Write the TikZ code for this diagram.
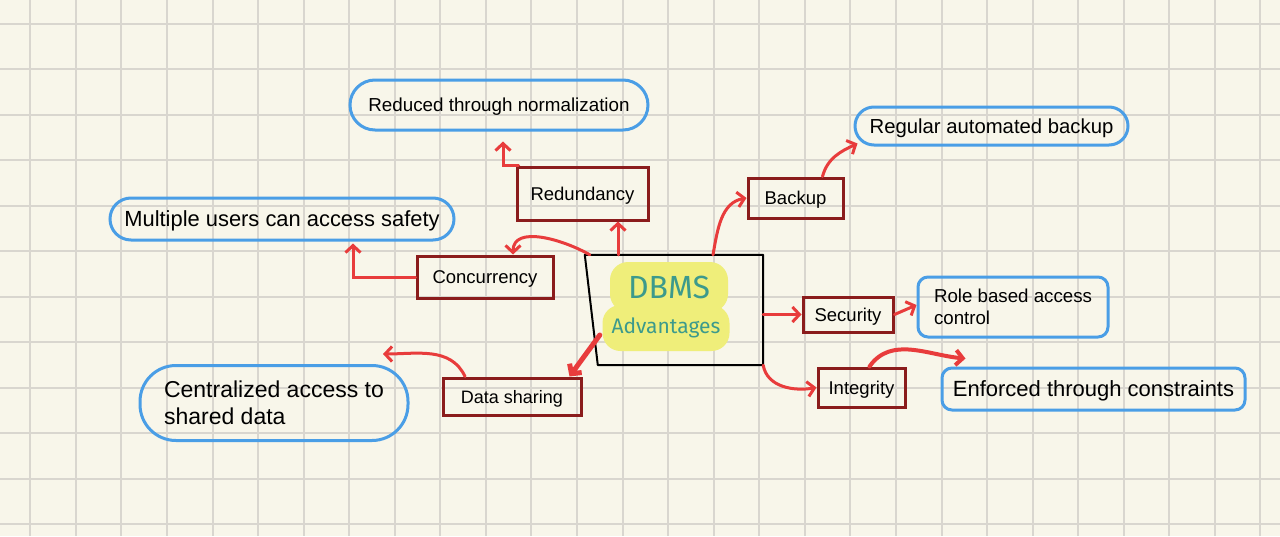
\documentclass[tikz,border=0pt]{standalone}
\usepackage{fontspec}
\setmainfont{Liberation Sans}
\newfontfamily\handfont{Fira Sans}
\usepackage{tikz}
\usetikzlibrary{arrows, arrows.meta}
\definecolor{paper}{HTML}{F8F6EA}
\definecolor{gridgray}{HTML}{D9D6CF}
\definecolor{boxred}{HTML}{8B1C1C}
\definecolor{arrowred}{HTML}{E83C3C}
\definecolor{noteblue}{HTML}{4A9EE6}
\definecolor{hiyellow}{HTML}{EFEE7A}
\definecolor{inkteal}{HTML}{3C9A8C}
\tikzset{gridline/.style = {draw = gridgray, line width = 2pt}}
\tikzset{topic/.style = {draw = boxred, line width = 3pt, inner sep = 0pt, text depth = 0pt, font = \fontsize{18.5}{22}\selectfont}}
\tikzset{note/.style = {draw = noteblue, line width = 3pt, inner sep = 0pt, align = center}}
\tikzset{hilite/.style = {fill = hiyellow, rounded corners = 18pt, inner sep = 0pt, text = inkteal}}
\tikzset{link/.style = {draw = arrowred, line width = 3pt, line cap = round, -{Straight Barb[length = 7pt, width = 15pt]}}}

\begin{document}
\begin{tikzpicture}[x = 1pt, y = 1pt]
				\fill[paper] (0, 0) rectangle (1280, -536);
				\useasboundingbox (0, 0) rectangle (1280, -536);
				\foreach \i in {0, ..., 27}
					\draw[gridline] ({30.3 + 45.56*\i}, 0) -- ++(0, -536);
				\foreach \j in {0, ..., 11}
					\draw[gridline] (0, {-24 - 45.45*\j}) -- ++(1280, 0);

				% centre box
				\node[minimum width = 178, minimum height = 110, inner sep = 0pt] (core) at (674, -310) {};
				\draw[line width = 2pt, line join = round] (core.north west) -- (core.north east) -- (core.south east) -- ([xshift = 13]core.south west) -- cycle;
				\node[hilite, minimum width = 118, minimum height = 50, font = \handfont\fontsize{32}{36}\selectfont] (dbmstitle) at (669, -287) {DBMS};
				\node[hilite, minimum width = 127, minimum height = 46, font = \handfont\fontsize{21}{24}\selectfont] (advtitle) at (666, -328) {Advantages};

				% topics
				\node[topic, minimum width = 131, minimum height = 53] (redund) at (582.5, -193.5) {Redundancy};
				\node[topic, minimum width = 136, minimum height = 42] (conc) at (485, -277) {Concurrency};
				\node[topic, minimum width = 95, minimum height = 40] (backup) at (795.5, -198) {Backup};
				\node[topic, minimum width = 90, minimum height = 35] (sec) at (848, -314.5) {Security};
				\node[topic, minimum width = 87, minimum height = 39] (integ) at (861.5, -387.5) {Integrity};
				\node[topic, minimum width = 138, minimum height = 37, font = \fontsize{18}{22}\selectfont] (dshare) at (512, -396.5) {Data sharing};

				% notes
				\node[note, text depth = 0pt, minimum width = 298, minimum height = 50, rounded corners = 25pt, font = \fontsize{18.8}{22}\selectfont] (norm) at (499, -105) {Reduced through normalization};
				\node[note, text depth = 0pt, minimum width = 344, minimum height = 42, rounded corners = 21pt, font = \fontsize{21.9}{26}\selectfont] (multi) at (282, -219) {Multiple users can access safety};
				\node[note, text depth = 0pt, minimum width = 273, minimum height = 38, rounded corners = 19pt, font = \fontsize{20.3}{24}\selectfont] (regular) at (991.5, -126) {Regular automated backup};
				\node[note, minimum width = 190, minimum height = 60, rounded corners = 10pt, align = left, font = \fontsize{18.7}{22}\selectfont] (role) at (1013, -307) {Role based access\\control};
				\node[note, text depth = 0pt, minimum width = 303, minimum height = 42, rounded corners = 10pt, font = \fontsize{22}{26}\selectfont] (enf) at (1093.5, -389) {Enforced through constraints};
				\node[note, minimum width = 268, minimum height = 75, rounded corners = 36pt, align = left, font = \fontsize{23}{27}\selectfont] (cent) at (274, -403) {Centralized access to\\shared data};

				% links
				\draw[link] ([xshift = -56]core.north) -- ([xshift = -56]core.north |- redund.south);
				\draw[link] ([xshift = 5]core.north west) to[out = 150, in = 90] ([xshift = 28]conc.north);
				\draw[link, shorten > = 2pt] (conc.west) -| ([xshift = 71]multi.south);
				\draw[link, shorten > = 10pt] ([xshift = 3]redund.north west) -| ([xshift = 4]norm.south);
				\draw[link] ([xshift = 39]core.north) to[out = 80, in = 190] (backup.west);
				\draw[link] ([xshift = 27]backup.north) to[out = 75, in = 205] ([xshift = -134, yshift = 3]regular.south);
				\draw[link] (core.east |- sec.west) -- (sec.west);
				\draw[link] (sec.east) -- ([yshift = 2]role.west);
				\draw[link] (core.south east) to[out = -80, in = 190] (integ.west);
				\draw[link, line width = 4pt] ([xshift = 8]integ.north) to[out = 55, in = 175] ([xshift = -128, yshift = 8]enf.north);
				\draw[link, line width = 5pt] ([xshift = 15, yshift = -25]core.west) -- ([xshift = -13]dshare.north east);
				\draw[link] ([xshift = -47]dshare.north) to[out = 115, in = 0] ([xshift = 109, yshift = 10]cent.north);
			\end{tikzpicture}
\end{document}
